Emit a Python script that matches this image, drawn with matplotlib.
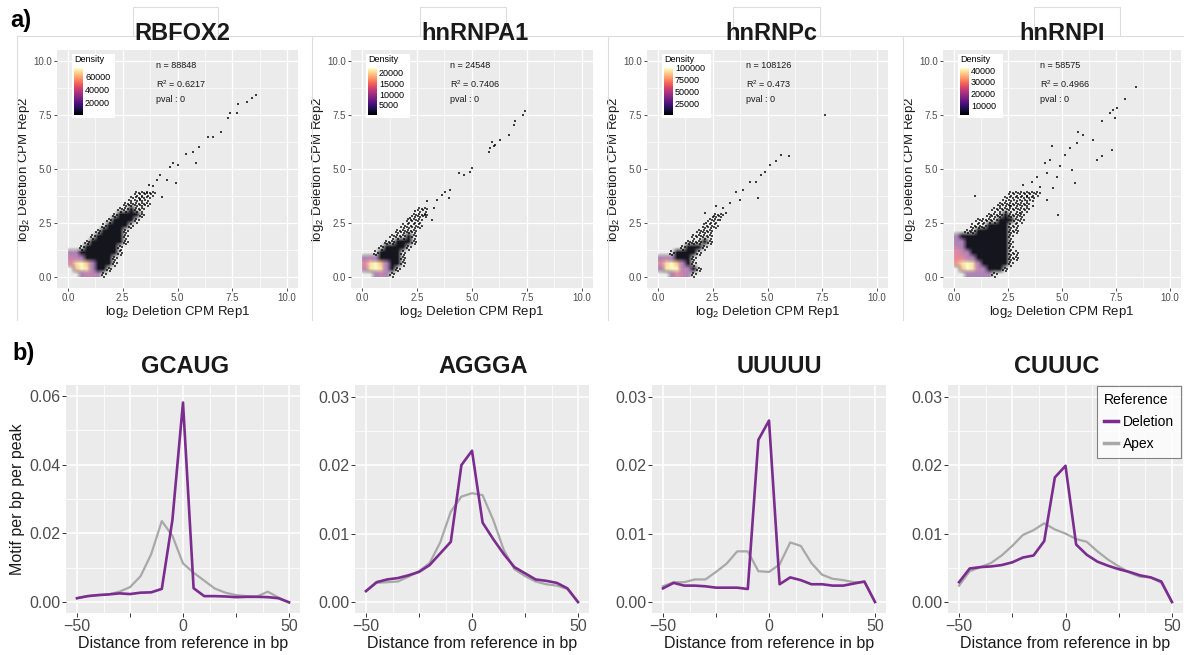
import numpy as np
import matplotlib
matplotlib.use('Agg')
import matplotlib.pyplot as plt
from matplotlib.patches import Rectangle
from matplotlib.lines import Line2D
from matplotlib.colors import to_rgba

plt.rcParams['font.family'] = ['Liberation Sans', 'DejaVu Sans']
plt.rcParams['mathtext.fontset'] = 'custom'
plt.rcParams['mathtext.rm'] = 'Liberation Sans'
plt.rcParams['mathtext.it'] = 'Liberation Sans:italic'
plt.rcParams['mathtext.default'] = 'regular'

# ---------------- a) replicate scatter data ----------------
# density level per 0.25 x 0.25 cell, x/y from 0 to 4, top row = y 3.75..4.0
# 0 = empty, 1 = sparse, 2 = dense (black) ... 9 = peak density
rbfox2_grid = [
    "0000000000001111",
    "0000000000011110",
    "0000000000111110",
    "0000000001121100",
    "0000000012222100",
    "0000000122221000",
    "0000001222210000",
    "0000012222100000",
    "0000122222100000",
    "0001222222100000",
    "0012222221000000",
    "3322222221000000",
    "4432222210000000",
    "5897322210000000",
    "0798322100000000",
    "0034431000000000",
]
hnrnpa1_grid = [
    "0000000000000000",
    "0000000000000000",
    "0000000000000000",
    "0000000000110000",
    "0000000001110000",
    "0000000011100000",
    "0000000111100000",
    "0000001111000000",
    "0000011121000000",
    "0000112221000000",
    "0001222210000000",
    "0012222100000000",
    "3432222100000000",
    "5897322100000000",
    "4898321000000000",
    "0034310000000000",
]
hnrnpc_grid = [
    "0000000000000000",
    "0000000000000000",
    "0000000000000000",
    "0000000000000000",
    "0000000000110000",
    "0000000001100000",
    "0000000011100000",
    "0000000111000000",
    "0000001111000000",
    "0000011121000000",
    "0000122210000000",
    "0012222100000000",
    "3432221000000000",
    "5897321000000000",
    "3899432100000000",
    "0035431000000000",
]
hnrnpi_grid = [
    "0000000000111111",
    "0000000001111110",
    "0000000011111100",
    "0000000111111100",
    "0000001112111000",
    "0000111122211000",
    "0001112222110000",
    "0011222222110000",
    "3222222222100000",
    "3322222222100000",
    "4322222222100000",
    "5432222222110000",
    "5543222222110000",
    "6898322222100000",
    "0798432221000000",
    "0033333100000000",
]

# sparse points outside the dense cloud
rbfox2_x = [8.6, 8.4, 8.15, 7.76, 7.7, 7.4, 7.3, 7.0, 6.6, 6.4, 6.0, 5.7, 5.85, 5.4, 5.0,
            4.8, 4.65, 4.95, 4.2, 4.05, 3.9, 4.5, 3.7, 3.6, 4.3, 3.3]
rbfox2_y = [8.4, 8.3, 8.1, 8.0, 7.6, 7.6, 7.35, 6.7, 6.5, 6.5, 6.0, 5.8, 5.3, 5.7, 5.2,
            5.27, 5.1, 4.35, 4.7, 4.5, 4.2, 4.5, 4.27, 3.9, 3.7, 3.6]
hnrnpa1_x = [7.42, 7.32, 6.97, 6.9, 6.67, 6.29, 5.98, 5.83, 5.76, 5.9, 6.06, 5.0, 4.92,
             4.62, 4.39, 4.0, 3.79, 3.64, 3.94, 3.41, 2.95, 3.26, 2.42, 2.88, 2.2, 3.18]
hnrnpa1_y = [7.66, 7.5, 7.2, 7.04, 6.58, 6.35, 6.04, 5.96, 5.8, 6.27, 6.1, 5.04, 4.88,
             4.73, 4.8, 4.04, 3.96, 3.8, 3.65, 3.57, 3.5, 3.19, 3.04, 2.88, 2.73, 2.65]
hnrnpc_x = [7.64, 5.98, 5.63, 5.4, 5.1, 4.87, 4.72, 4.49, 4.57, 4.19, 3.88, 3.58, 3.73,
            3.27, 2.97, 2.66, 3.12, 2.51, 2.13, 2.82, 2.2]
hnrnpc_y = [7.5, 5.62, 5.65, 5.35, 5.19, 4.88, 4.73, 4.42, 3.65, 4.42, 4.04, 3.96, 3.57,
            3.42, 3.19, 3.27, 2.96, 2.8, 2.96, 2.65, 2.5]
hnrnpi_x = [8.43, 7.92, 7.56, 7.38, 7.22, 7.45, 6.84, 7.3, 6.84, 6.6, 6.45, 5.99, 5.76,
            5.68, 5.37, 5.14, 5.45, 5.6, 4.52, 4.44, 4.21, 4.91, 4.75, 4.29, 3.83, 3.6,
            3.98, 4.6, 4.83, 3.21, 0.97, 3.36, 4.29, 3.67, 2.59, 3.06]
hnrnpi_y = [8.78, 8.24, 7.81, 7.73, 7.58, 7.35, 7.2, 5.86, 5.58, 5.42, 6.35, 6.58, 6.73,
            6.19, 5.96, 5.65, 4.96, 4.35, 6.04, 5.42, 5.27, 5.12, 4.65, 4.8, 4.65, 4.42,
            4.19, 4.11, 2.88, 4.27, 3.73, 3.73, 3.57, 3.27, 3.27, 2.96]

scatter_titles = ['RBFOX2', 'hnRNPA1', 'hnRNPc', 'hnRNPI']
scatter_n = ['88848', '24548', '108126', '58575']
scatter_r2 = ['0.6217', '0.7406', '0.473', '0.4966']
density_ticks = [[60000, 40000, 20000], [20000, 15000, 10000, 5000],
                 [100000, 75000, 50000, 25000], [40000, 30000, 20000, 10000]]
density_range = [(800, 76000), (900, 22300), (1500, 102000), (2300, 42600)]

# ---------------- b) motif profiles ----------------
pos = [-50, -45, -40, -35, -30, -25, -20, -15, -10, -5, 0, 5, 10, 15, 20, 25, 30, 35, 40, 45, 50]
gcaug_del = [0.0012, 0.0018, 0.0021, 0.0023, 0.0026, 0.0024, 0.0028, 0.0029, 0.0039, 0.0239, 0.058,
             0.0041, 0.0018, 0.0018, 0.0017, 0.0015, 0.0016, 0.0016, 0.0015, 0.0012, 0.0]
gcaug_apex = [0.0012, 0.0018, 0.0021, 0.0023, 0.0031, 0.0044, 0.0076, 0.014, 0.0236, 0.0193, 0.0113,
              0.0086, 0.0063, 0.004, 0.0028, 0.0021, 0.0018, 0.0017, 0.0031, 0.0014, 0.0]
aggga_del = [0.0016, 0.0029, 0.0033, 0.0035, 0.0039, 0.0044, 0.0054, 0.0071, 0.0088, 0.020, 0.0221,
             0.0116, 0.0092, 0.0070, 0.0051, 0.0042, 0.0033, 0.0031, 0.0028, 0.0020, 0.0]
aggga_apex = [0.0016, 0.0028, 0.0029, 0.0030, 0.0037, 0.0045, 0.0057, 0.0087, 0.0132, 0.0154, 0.0159,
              0.0156, 0.0120, 0.0076, 0.0048, 0.0038, 0.0030, 0.0026, 0.0024, 0.0019, 0.0]
uuuuu_del = [0.0020, 0.0028, 0.0024, 0.0024, 0.0023, 0.0021, 0.0021, 0.0021, 0.0019, 0.0237, 0.0265,
             0.0026, 0.0036, 0.0032, 0.0026, 0.0026, 0.0024, 0.0024, 0.0027, 0.0030, 0.0]
uuuuu_apex = [0.0023, 0.0029, 0.0029, 0.0033, 0.0033, 0.0044, 0.0056, 0.0074, 0.0074, 0.0045, 0.0044,
              0.0055, 0.0087, 0.0082, 0.0057, 0.0040, 0.0034, 0.0032, 0.0029, 0.0029, 0.0]
cuuuc_del = [0.0029, 0.0049, 0.0051, 0.0052, 0.0054, 0.0058, 0.0065, 0.0068, 0.0089, 0.0182, 0.0199,
             0.0084, 0.0069, 0.0059, 0.0053, 0.0048, 0.0044, 0.0039, 0.0036, 0.0030, 0.0]
cuuuc_apex = [0.0024, 0.0045, 0.0051, 0.0057, 0.0068, 0.0082, 0.0098, 0.0105, 0.0115, 0.0106, 0.0100,
              0.0092, 0.0088, 0.0074, 0.0062, 0.0052, 0.0043, 0.0037, 0.0036, 0.0028, 0.0]
motif_titles = ['GCAUG', 'AGGGA', 'UUUUU', 'CUUUC']

DEL_COLOR = '#7B2C8F'
APEX_COLOR = '#A8A8A8'

W, H = 1184, 655
fig = plt.figure(figsize=(W / 100, H / 100), dpi=100)


def px_axes(x0, y0, x1, y1, **kw):
    return fig.add_axes([x0 / W, 1 - y1 / H, (x1 - x0) / W, (y1 - y0) / H], **kw)


def fx(x):
    return x / W


def fy(y):
    return 1 - y / H


magma = plt.get_cmap('magma')
# colour and opacity of each density level drawn as image (level 1 drawn as dots)
level_style = {
    2: (magma(0.02), 0.92),
    3: (magma(0.32), 0.5),
    4: (magma(0.45), 0.55),
    5: (magma(0.6), 0.6),
    6: (magma(0.72), 0.7),
    7: (magma(0.85), 0.8),
    8: (magma(0.94), 0.92),
    9: (magma(1.0), 1.0),
}
CELL = 0.25
dot_offsets = [(0.15, 0.35), (0.6, 0.1), (0.45, 0.75), (0.9, 0.55)]


def density_rgba(rows):
    grid = np.array([[int(c) for c in r] for r in rows])
    rgba = np.zeros(grid.shape + (4,))
    for level, (col, a) in level_style.items():
        rgba[grid == level] = to_rgba(col, a)
    return rgba


def sparse_dots(rows):
    xs, ys = [], []
    n = len(rows)
    for r, row in enumerate(rows):
        for c, ch in enumerate(row):
            if ch == '1':
                for ox, oy in dot_offsets:
                    xs.append((c + ox) * CELL)
                    ys.append((n - 1 - r + oy) * CELL)
    return xs, ys


# panel frames (light borders of the original image tiles)
frame_col = '#DDDDDD'
fig.add_artist(Line2D([fx(17), fx(1184)], [fy(36), fy(36)], color=frame_col, lw=0.8))
for xv in [17, 312, 608, 903]:
    fig.add_artist(Line2D([fx(xv), fx(xv)], [fy(36), fy(320)], color=frame_col, lw=0.8))

scatter_boxes = [(57, 298), (351, 593), (647, 888), (943, 1181)]
title_boxes = [(133, 218), (420, 506), (733, 820), (1034, 1120)]
title_centers = [182, 475, 771, 1062]
legend_widths = [43, 44, 49, 45]
grids = [rbfox2_grid, hnrnpa1_grid, hnrnpc_grid, hnrnpi_grid]
outl_x = [rbfox2_x, hnrnpa1_x, hnrnpc_x, hnrnpi_x]
outl_y = [rbfox2_y, hnrnpa1_y, hnrnpc_y, hnrnpi_y]

fig.text(fx(21), fy(21), 'a)', fontsize=17, fontweight='bold', ha='center', va='center')
fig.text(fx(24), fy(354), 'b)', fontsize=17, fontweight='bold', ha='center', va='center')

for i in range(4):
    x0, x1 = scatter_boxes[i]
    ax = px_axes(x0, 50, x1, 288)
    ax.set_facecolor('#EBEBEB')
    ax.set_axisbelow(True)
    ext = len(grids[i]) * CELL
    ax.imshow(density_rgba(grids[i]), extent=(0, ext, 0, ext), origin='upper',
              interpolation='bilinear', aspect='auto', zorder=2)
    dx, dy = sparse_dots(grids[i])
    ax.scatter(dx, dy, s=0.9, marker='s', c='black', alpha=0.7, linewidths=0, zorder=3)
    ax.scatter(outl_x[i], outl_y[i], s=0.9, marker='s', c='black', alpha=0.75, linewidths=0, zorder=3)
    ax.set_xlim(-0.5, 10.5)
    ax.set_ylim(-0.5, 10.5)
    ticks = [0, 2.5, 5, 7.5, 10]
    labels = ['0.0', '2.5', '5.0', '7.5', '10.0']
    minor = [1.25, 3.75, 6.25, 8.75]
    ax.set_xticks(ticks)
    ax.set_xticklabels(labels)
    ax.set_yticks(ticks)
    ax.set_yticklabels(labels)
    ax.set_xticks(minor, minor=True)
    ax.set_yticks(minor, minor=True)
    ax.grid(which='major', color='white', lw=0.9)
    ax.grid(which='minor', color='white', lw=0.45)
    ax.tick_params(which='minor', length=0)
    ax.tick_params(which='major', length=2, width=0.6, color='#333333', labelsize=7,
                   labelcolor='#4D4D4D', pad=1.5)
    for s in ax.spines.values():
        s.set_visible(False)
    ax.set_xlabel(r'log$_2$ Deletion CPM Rep1', fontsize=9.5, labelpad=1, color='#1A1A1A')
    ax.set_ylabel(r'log$_2$ Deletion CPM Rep2', fontsize=9.5, labelpad=1, color='#1A1A1A')
    ax.text(4.0, 9.78, 'n = ' + scatter_n[i], fontsize=6.5, va='center', color='#1A1A1A')
    ax.text(4.0, 8.92, r'R$^2$ = ' + scatter_r2[i], fontsize=6.5, va='center', color='#1A1A1A')
    ax.text(4.0, 8.23, 'pval : 0', fontsize=6.5, va='center', color='#1A1A1A')

    # title with its tile box
    tb0, tb1 = title_boxes[i]
    fig.add_artist(Rectangle((fx(tb0), fy(36)), fx(tb1 - tb0), (36 - 7) / H, facecolor='white',
                             edgecolor=frame_col, lw=0.8))
    fig.text(fx(title_centers[i]), fy(33), scatter_titles[i], fontsize=17, fontweight='bold',
             ha='center', va='center', color='#1A1A1A')

    # density legend
    bx0 = x0 + 15
    bw = legend_widths[i]
    fig.add_artist(Rectangle((fx(bx0), fy(118)), fx(bw), (118 - 54) / H, facecolor='white',
                             edgecolor='none', zorder=3))
    fig.text(fx(bx0 + 2), fy(60), 'Density', fontsize=6.5, va='center', ha='left', zorder=6)
    cax = px_axes(bx0 + 2, 68, bx0 + 11, 115, zorder=5)
    lo, hi = density_range[i]
    cax.imshow(np.linspace(1, 0, 100).reshape(-1, 1), cmap='magma', aspect='auto')
    cax.axis('off')
    for v in density_ticks[i]:
        yy = 115 - (v - lo) / (hi - lo) * 47
        fig.text(fx(bx0 + 13), fy(yy), str(v), fontsize=6.5, va='center', ha='left', zorder=6)

motif_del = [gcaug_del, aggga_del, uuuuu_del, cuuuc_del]
motif_apex = [gcaug_apex, aggga_apex, uuuuu_apex, cuuuc_apex]
motif_boxes = [(66.4, 299.6), (355.4, 588.6), (652.4, 885.6), (948.4, 1182.6)]
motif_centers = [185, 483, 779, 1057]

for i in range(4):
    x0, x1 = motif_boxes[i]
    ax = px_axes(x0, 385, x1, 613)
    ax.set_facecolor('#EBEBEB')
    ax.set_axisbelow(True)
    ax.plot(pos, motif_apex[i], color=APEX_COLOR, lw=1.6, label='Apex', zorder=3)
    ax.plot(pos, motif_del[i], color=DEL_COLOR, lw=1.9, label='Deletion', zorder=4)
    ax.set_xlim(-55, 55)
    ax.set_xticks([-50, -25, 0, 25, 50])
    ax.set_xticklabels(['\u221250', '', '0', '', '50'])
    ax.set_xticks([-37.5, -12.5, 12.5, 37.5], minor=True)
    if i == 0:
        ax.set_ylim(-0.0031, 0.0631)
        ax.set_yticks([0, 0.02, 0.04, 0.06])
        ax.set_yticks([0.01, 0.03, 0.05], minor=True)
    else:
        ax.set_ylim(-0.0016, 0.0317)
        ax.set_yticks([0, 0.01, 0.02, 0.03])
        ax.set_yticks([0.005, 0.015, 0.025], minor=True)
    ax.set_yticklabels(['%.2f' % t for t in ax.get_yticks()])
    ax.grid(which='major', color='white', lw=1.1)
    ax.grid(which='minor', color='white', lw=0.55)
    ax.tick_params(which='minor', length=0)
    ax.tick_params(which='major', length=3, width=0.7, color='#333333', labelsize=11.5,
                   labelcolor='#4D4D4D', pad=1.5)
    for s in ax.spines.values():
        s.set_visible(False)
    ax.set_xlabel('Distance from reference in bp', fontsize=11.5, labelpad=1, color='#1A1A1A')
    if i == 0:
        ax.set_ylabel('Motif per bp per peak', fontsize=11.5, labelpad=3, color='#1A1A1A')
    fig.text(fx(motif_centers[i]), fy(367), motif_titles[i], fontsize=17, fontweight='bold',
             ha='center', va='center', color='#1A1A1A')
    if i == 3:
        handles = [Line2D([], [], color=DEL_COLOR, lw=2.5), Line2D([], [], color=APEX_COLOR, lw=2.5)]
        leg = ax.legend(handles, ['Deletion', 'Apex'], title='Reference', loc='upper right',
                        bbox_to_anchor=(1.0, 1.0), fontsize=10, title_fontsize=10, frameon=True,
                        fancybox=False, edgecolor='#666666', borderaxespad=0.1, handlelength=1.0,
                        handletextpad=0.4, labelspacing=0.55, borderpad=0.5)
        leg.get_frame().set_linewidth(0.8)
        leg._legend_box.align = 'left'

fig.savefig('out.png', dpi=100)
